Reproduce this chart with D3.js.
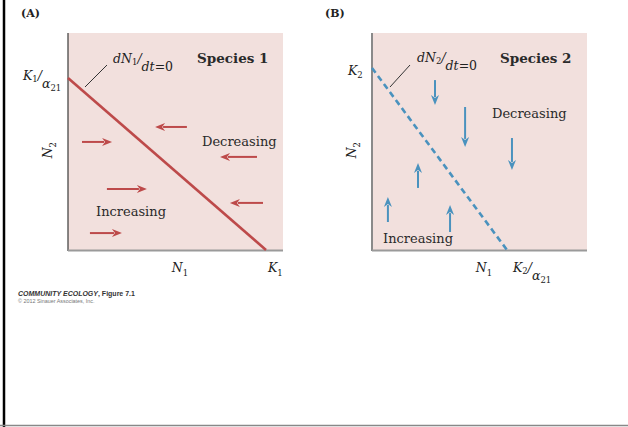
<!DOCTYPE html>
<html>
<head>
<meta charset="utf-8">
<script src="https://cdn.jsdelivr.net/npm/d3@7"></script>
<style>
  body { margin: 0; background: #fff; }
  svg { display: block; }
</style>
</head>
<body>
<svg id="chart" width="628" height="427"></svg>
<script>
// isoclines, in data units (N1 and N2 run 0..1 over each panel)
const isoclineA = [{ n1: 0, n2: 0.793 }, { n1: 0.921, n2: 0 }];
const isoclineB = [{ n1: 0, n2: 0.839 }, { n1: 0.628, n2: 0 }];

// horizontal arrows for species 1: [from n1, to n1, at n2]
const arrowsA = [
  [0.553, 0.405, 0.567],
  [0.065, 0.205, 0.498],
  [0.879, 0.707, 0.429],
  [0.181, 0.367, 0.281],
  [0.907, 0.753, 0.217],
  [0.102, 0.251, 0.078],
];

// vertical arrows for species 2: [at n1, from n2, to n2]
const arrowsB = [
  [0.293, 0.783, 0.668],
  [0.433, 0.659, 0.475],
  [0.651, 0.516, 0.369],
  [0.214, 0.286, 0.401],
  [0.074, 0.129, 0.244],
  [0.363, 0.083, 0.207],
];

const n1TickPos = 0.52;
const n2TickPos = 0.46;

const pink = "#f2e0dd";
const red = "#bd4a4a";
const blue = "#4a92be";
const serif = "'DejaVu Serif', 'Liberation Serif', serif";

const svg = d3.select("#chart");

// page frame: black left edge, grey bottom edge
svg.append("line").attr("x1", 4).attr("x2", 4).attr("y1", 0).attr("y2", 427)
  .attr("stroke", "#000").attr("stroke-width", 2.5);
svg.append("line").attr("x1", 0).attr("x2", 628).attr("y1", 425.5).attr("y2", 425.5)
  .attr("stroke", "#888").attr("stroke-width", 1.5);

function panel(left, right, letter) {
  const x = d3.scaleLinear().domain([0, 1]).range([left, right]);
  const y = d3.scaleLinear().domain([0, 1]).range([250, 33]);
  const g = svg.append("g");

  g.append("rect")
    .attr("x", x(0)).attr("y", y(1))
    .attr("width", x(1) - x(0)).attr("height", y(0) - y(1))
    .attr("fill", pink);

  g.append("text")
    .attr("x", x(0) - 47).attr("y", 17)
    .attr("font-family", serif).attr("font-weight", "bold").attr("font-size", 11)
    .attr("fill", "#222")
    .text(`(${letter})`);

  return { g, x, y };
}

function axes(p, leftColor, leftWidth) {
  const { g, x, y } = p;
  g.append("line")
    .attr("x1", x(0)).attr("x2", x(0)).attr("y1", y(1)).attr("y2", y(0) + 1)
    .attr("stroke", leftColor).attr("stroke-width", leftWidth);
  g.append("line")
    .attr("x1", x(0)).attr("x2", x(1)).attr("y1", y(0) + 0.5).attr("y2", y(0) + 0.5)
    .attr("stroke", "#9a9a9a").attr("stroke-width", 2);
}

// math style label built from tspans (sub = small upright digits)
function mathLabel(g, px, py, parts, anchor) {
  const t = g.append("text")
    .attr("x", px).attr("y", py)
    .attr("font-family", serif).attr("font-size", 12.5)
    .attr("font-style", "italic").attr("fill", "#222")
    .attr("text-anchor", anchor || "start");
  parts.forEach((p) => {
    const s = t.append("tspan").text(p.t);
    if (p.sub) s.attr("font-size", 8.5).attr("font-style", "normal");
    if (p.dy !== undefined) s.attr("dy", p.dy);
    if (p.normal) s.attr("font-style", "normal");
  });
  return t;
}

function wordLabel(g, px, py, txt, bold) {
  g.append("text")
    .attr("x", px).attr("y", py)
    .attr("font-family", serif).attr("font-size", bold ? 13.5 : 13)
    .attr("font-weight", bold ? "bold" : "normal")
    .attr("fill", "#2a2a2a")
    .text(txt);
}

function arrow(g, x1, y1, x2, y2, color) {
  const dx = x2 - x1, dy = y2 - y1;
  const len = Math.hypot(dx, dy);
  const ux = dx / len, uy = dy / len;
  const head = 10, half = 4;
  const bx = x2 - ux * head, by = y2 - uy * head;
  g.append("line")
    .attr("x1", x1).attr("y1", y1).attr("x2", bx + ux * 2).attr("y2", by + uy * 2)
    .attr("stroke", color).attr("stroke-width", 2);
  g.append("path")
    .attr("d", `M${x2},${y2}L${bx - uy * half},${by + ux * half}L${bx + ux * 3},${by + uy * 3}L${bx + uy * half},${by - ux * half}Z`)
    .attr("fill", color);
}

// ---------- panel A ----------
const A = panel(68, 283, "A");
axes(A, "#3a3a3a", 1.2);

A.g.append("path")
  .datum(isoclineA)
  .attr("d", d3.line().x((d) => A.x(d.n1)).y((d) => A.y(d.n2)))
  .attr("fill", "none").attr("stroke", red).attr("stroke-width", 2.6);

arrowsA.forEach(([a, b, n2]) => arrow(A.g, A.x(a), A.y(n2), A.x(b), A.y(n2), red));

A.g.append("line").attr("x1", 85).attr("y1", 87).attr("x2", 107).attr("y2", 65)
  .attr("stroke", "#333").attr("stroke-width", 1);

mathLabel(A.g, 113, 63, [
  { t: "dN" }, { t: "1", sub: true, dy: 2 }, { t: "/", dy: -2 },
  { t: "dt", dy: 8 }, { t: "=0", normal: true },
]);

wordLabel(A.g, 197, 63, "Species 1", true);
wordLabel(A.g, 202, 146, "Decreasing", false);
wordLabel(A.g, 96, 216, "Increasing", false);

mathLabel(A.g, 23, 80, [
  { t: "K" }, { t: "1", sub: true, dy: 2 }, { t: "/", dy: -2 },
  { t: "α", dy: 8 }, { t: "21", sub: true, dy: 3 },
]);
mathLabel(A.g, A.x(n1TickPos) - 8, 272, [{ t: "N" }, { t: "1", sub: true, dy: 4 }]);
mathLabel(A.g, A.x(isoclineA[1].n1) + 2, 272, [{ t: "K" }, { t: "1", sub: true, dy: 4 }]);

const n2A = A.g.append("g")
  .attr("transform", `translate(52,${A.y(n2TickPos)}) rotate(-90)`);
mathLabel(n2A, 0, 0, [{ t: "N" }, { t: "2", sub: true, dy: 4 }], "middle");

// caption
svg.append("text").attr("x", 18).attr("y", 296)
  .attr("font-family", "'Liberation Sans', Arial, sans-serif")
  .attr("font-size", 7).attr("font-weight", "bold").attr("fill", "#333")
  .html('<tspan font-style="italic">COMMUNITY ECOLOGY</tspan>, Figure 7.1');
svg.append("text").attr("x", 18).attr("y", 303)
  .attr("font-family", "'Liberation Sans', Arial, sans-serif")
  .attr("font-size", 5.4).attr("fill", "#777")
  .text("© 2012 Sinauer Associates, Inc.");

// ---------- panel B ----------
const B = panel(372, 587, "B");
axes(B, "#8a8a8a", 2);

B.g.append("path")
  .datum(isoclineB)
  .attr("d", d3.line().x((d) => B.x(d.n1)).y((d) => B.y(d.n2)))
  .attr("fill", "none").attr("stroke", blue).attr("stroke-width", 2.6)
  .attr("stroke-dasharray", "6,4");

arrowsB.forEach(([n1, a, b]) => arrow(B.g, B.x(n1), B.y(a), B.x(n1), B.y(b), blue));

B.g.append("line").attr("x1", 390).attr("y1", 87).attr("x2", 410).attr("y2", 65)
  .attr("stroke", "#333").attr("stroke-width", 1);

mathLabel(B.g, 417, 62, [
  { t: "dN" }, { t: "2", sub: true, dy: 2 }, { t: "/", dy: -2 },
  { t: "dt", dy: 8 }, { t: "=0", normal: true },
]);

wordLabel(B.g, 500, 63, "Species 2", true);
wordLabel(B.g, 492, 118, "Decreasing", false);
wordLabel(B.g, 383, 243, "Increasing", false);

mathLabel(B.g, 348, 75, [{ t: "K" }, { t: "2", sub: true, dy: 3 }]);
mathLabel(B.g, B.x(n1TickPos) - 8, 272, [{ t: "N" }, { t: "1", sub: true, dy: 4 }]);
mathLabel(B.g, B.x(isoclineB[1].n1) + 6, 272, [
  { t: "K" }, { t: "2", sub: true, dy: 2 }, { t: "/", dy: -2 },
  { t: "α", dy: 8 }, { t: "21", sub: true, dy: 3 },
]);

const n2B = B.g.append("g")
  .attr("transform", `translate(356,${B.y(n2TickPos)}) rotate(-90)`);
mathLabel(n2B, 0, 0, [{ t: "N" }, { t: "2", sub: true, dy: 4 }], "middle");
</script>
</body>
</html>
